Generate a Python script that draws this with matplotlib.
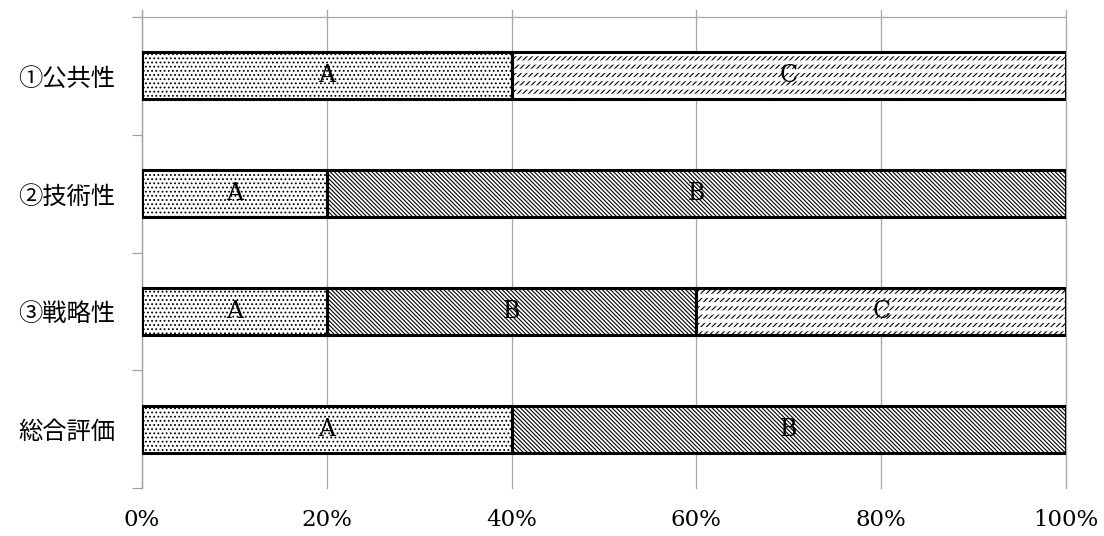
import numpy as np
import matplotlib
matplotlib.use("Agg")
import matplotlib.pyplot as plt

categories = ["①公共性", "②技術性", "③戦略性", "総合評価"]
seg_names = ["A", "B", "C"]
share_A = [0.40, 0.20, 0.20, 0.40]
share_B = [0.00, 0.80, 0.40, 0.60]
share_C = [0.60, 0.00, 0.40, 0.00]
x_ticks = [0, 0.2, 0.4, 0.6, 0.8, 1.0]
x_tick_labels = ["0%", "20%", "40%", "60%", "80%", "100%"]

plt.rcParams['hatch.linewidth'] = 0.8

fig = plt.figure(figsize=(11.04, 5.36), dpi=100)
ax = fig.add_axes([0.1286, 0.0896, 0.9656 - 0.1286, 0.9813 - 0.0896])

y = np.arange(len(categories))
h = 0.4
series = [share_A, share_B, share_C]
hatches = ["....", "\\" * 8, "/" * 6]
left = np.zeros(len(categories))
for name, vals, hatch in zip(seg_names, series, hatches):
    vals = np.array(vals)
    ax.barh(y, vals, left=left, height=h, color="white",
            edgecolor="black", hatch=hatch, linewidth=0, zorder=3)
    if name == "C":
        with plt.rc_context({'hatch.linewidth': 3.0}):
            over = ax.barh(y, vals, left=left, height=h, color="none",
                           edgecolor="white", hatch="--", linewidth=0, zorder=3.5)
        for p in over:
            if hasattr(p, "set_hatch_linewidth"):
                p.set_hatch_linewidth(3.0)
    ax.barh(y, vals, left=left, height=h, color="none",
            edgecolor="black", linewidth=2.2, zorder=4)
    for yi, l, v in zip(y, left, vals):
        if v > 0:
            ax.text(l + v / 2, yi, name, ha="center", va="center",
                    fontsize=17, family="DejaVu Serif", zorder=5)
    left = left + vals

ax.set_xlim(0, 1)
ax.set_ylim(3.5, -0.56)
ax.set_xticks(x_ticks)
ax.set_xticklabels(x_tick_labels, family="DejaVu Serif", fontsize=16.5)
ax.tick_params(axis="x", length=0, pad=15)

ax.set_yticks(y)
ax.set_yticklabels(categories, family=["Noto Sans CJK JP", "DejaVu Sans"], fontsize=17.5)
ax.set_yticks(np.arange(-0.5, len(categories), 1.0), minor=True)
ax.tick_params(axis="y", which="major", length=0, pad=19)
ax.tick_params(axis="y", which="minor", length=7, color="#a0a0a0", width=0.9)

ax.grid(axis="x", color="#a6a6a6", linewidth=0.9, zorder=0)
for gl in ax.get_xgridlines():
    gl.set_clip_on(False)
ax.axhline(-0.5, color="#a6a6a6", linewidth=0.9, zorder=0)
for s in ["top", "right", "bottom"]:
    ax.spines[s].set_visible(False)
ax.spines["left"].set_color("#a0a0a0")
ax.spines["left"].set_linewidth(0.9)

fig.savefig("out.png", dpi=100)
